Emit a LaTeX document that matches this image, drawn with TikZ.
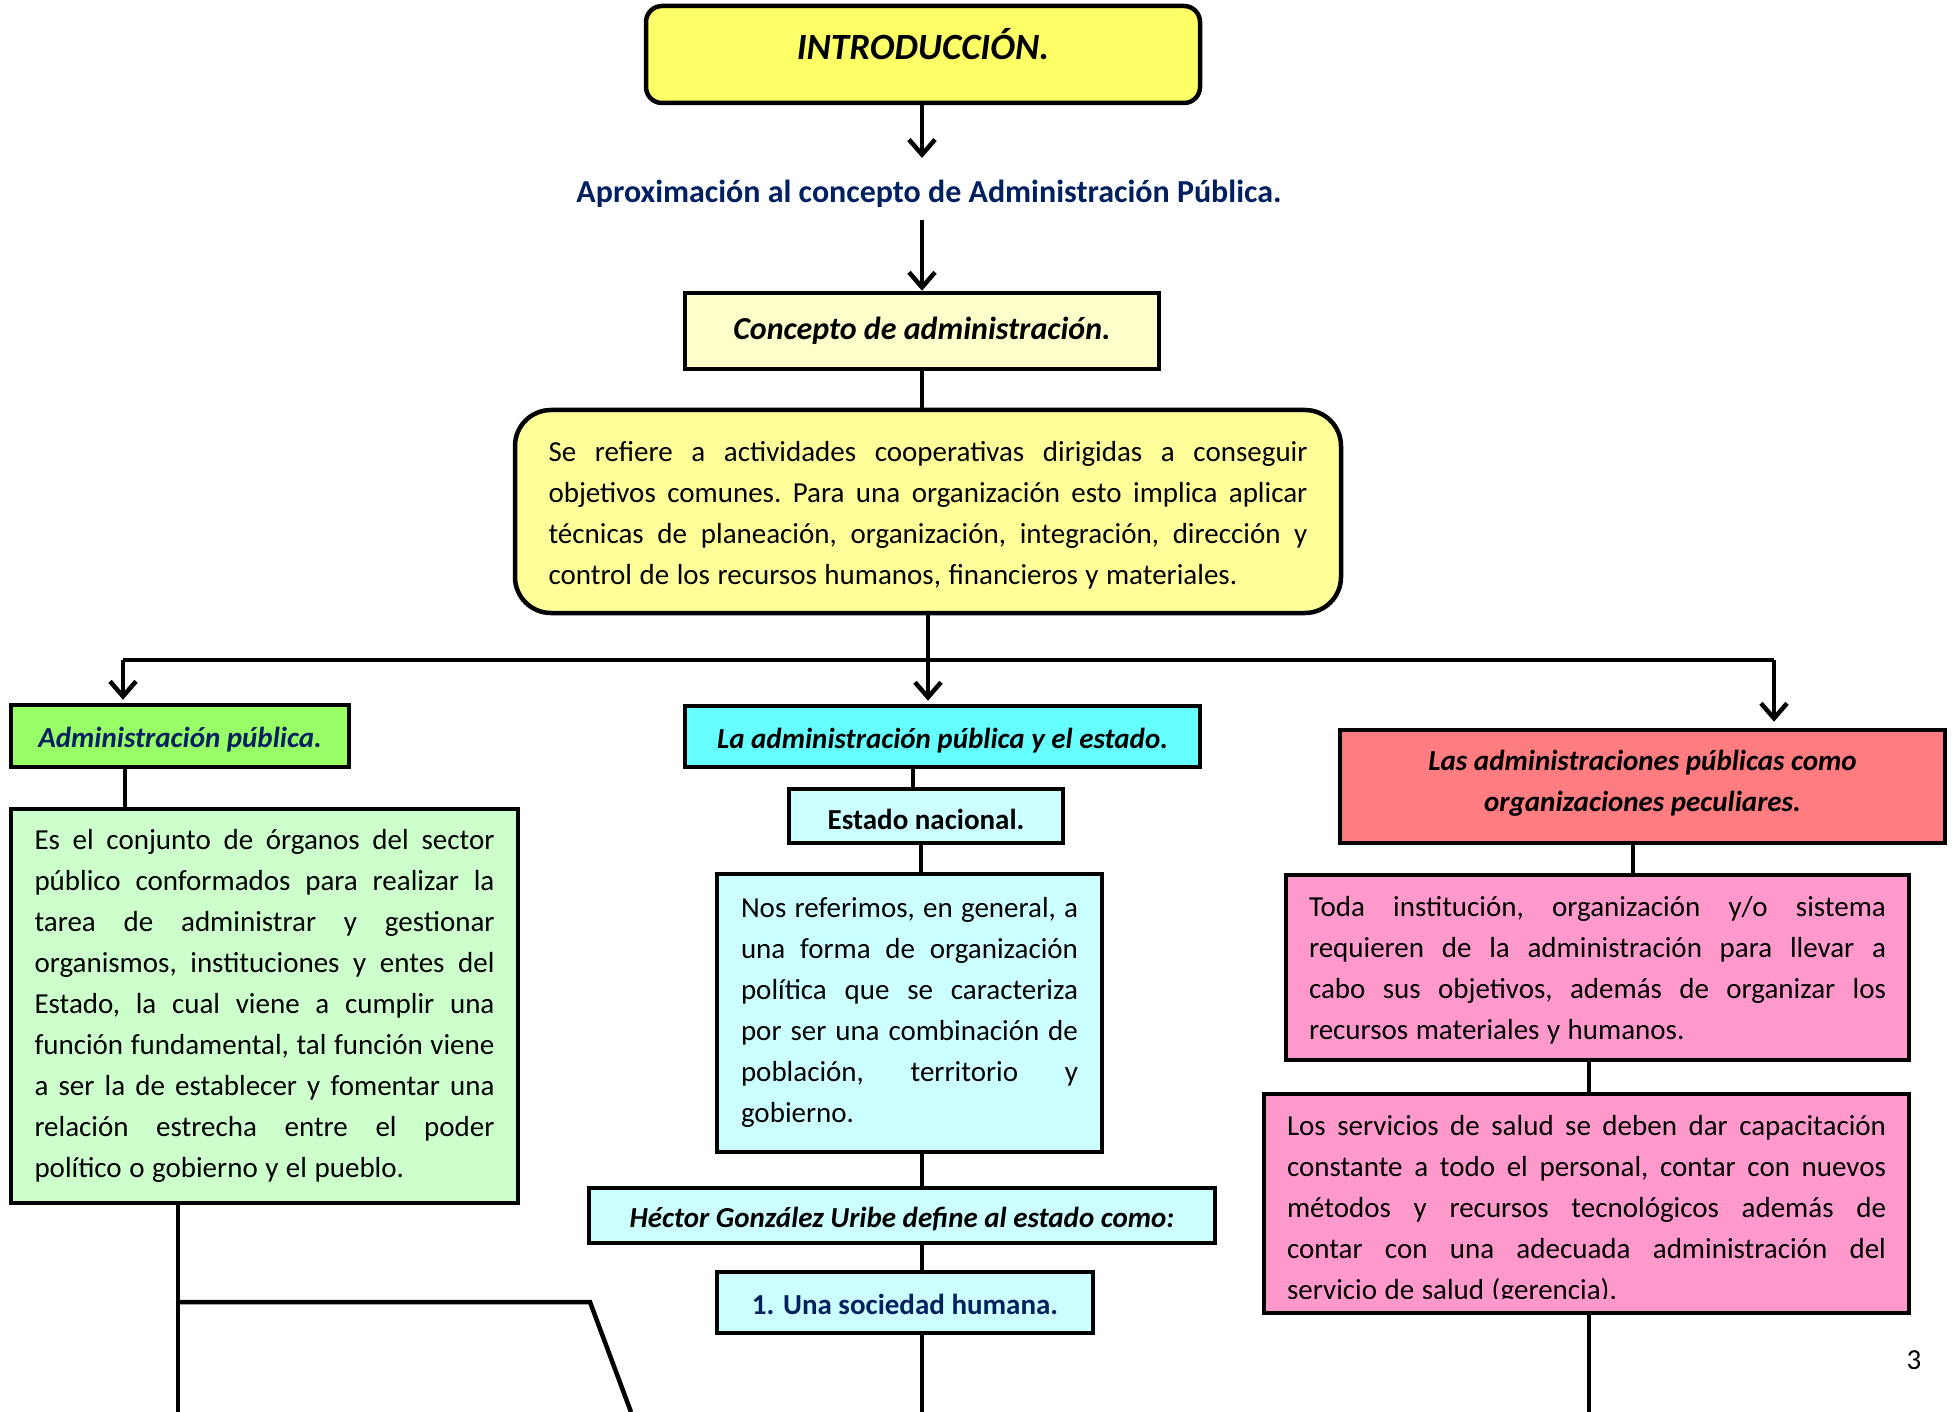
\documentclass[tikz,border=0pt]{standalone}
\usepackage{fontspec}
\setmainfont{Carlito}
\usetikzlibrary{arrows.meta,calc}
\definecolor{navyc}{HTML}{002060}
\definecolor{titley}{HTML}{FFFF66}
\definecolor{lighty}{HTML}{FFFFCC}
\definecolor{midy}{HTML}{FFFF99}
\definecolor{greenh}{HTML}{99FF66}
\definecolor{greenl}{HTML}{CCFFCC}
\definecolor{cyanh}{HTML}{66FFFF}
\definecolor{cyanl}{HTML}{CCFFFF}
\definecolor{redh}{HTML}{FF7C80}
\definecolor{pinkl}{HTML}{FF99CC}
\newlength{\jw}
\newcommand{\mybody}{\fontsize{29}{41}\selectfont}
\newcommand{\myspaces}{\frenchspacing\spaceskip=0.26em plus 3em minus 0.06em\relax}
\newcommand{\jl}[1]{\hbox to \jw{\myspaces #1}}
\newcommand{\lastl}[1]{\hbox{\myspaces #1}}
\begin{document}
\begin{tikzpicture}[x=1pt,y=-1pt,
  box/.style={draw=black, line width=4.5pt, inner sep=0pt, font=\mybody, align=center},
  txt/.style={inner sep=0pt, align=left, font=\mybody, text width=#1, execute at begin node={\setlength{\jw}{#1}}},
  conn/.style={line width=4.5pt},
  arr/.style={conn, -{Straight Barb[length=15pt,width=26pt]}},
  hd/.style={font=\mybody\bfseries\itshape},
  hdv/.style={text height=27pt, text depth=4pt}]
\useasboundingbox (0,0) rectangle (1952,1412);

% top
\node[box, fill=titley, rounded corners=16pt, minimum width=554pt, minimum height=97pt,
      text height=30pt, text depth=20pt,
      font=\fontsize{37}{44}\selectfont\bfseries\itshape] (title) at (923,54.5) {INTRODUCCIÓN.};
\node[font=\fontsize{32}{40}\selectfont\bfseries, text=navyc, inner sep=2pt] (aprox) at (929,194) {Aproximación al concepto de Administración Pública.};
\node[box, font=\fontsize{32}{40}\selectfont\bfseries\itshape, fill=lighty, minimum width=474pt, minimum height=76pt] (conc) at (922,331) {Concepto de administración.};
\node[box, fill=midy, rounded corners=36pt, minimum width=826pt, minimum height=203pt] (def) at (928,511.5) {};
\node[txt=759pt] (deft) at ([yshift=-3.7pt]def.center) {%
\jl{Se refiere a actividades cooperativas dirigidas a conseguir}
\jl{objetivos comunes. Para una organización esto implica aplicar}
\jl{técnicas de planeación, organización, integración, dirección y}
\lastl{control de los recursos humanos, financieros y materiales.}};

% left column
\node[box, hd, hdv, text=navyc, fill=greenh, minimum width=338pt, minimum height=62pt] (apub) at (180,736) {Administración pública.};
\node[box, fill=greenl, minimum width=507pt, minimum height=394pt] (gtext) at (264.5,1006) {};
\node[txt=460pt] (gtextt) at (gtext.center) {%
\jl{Es el conjunto de órganos del sector}
\jl{público conformados para realizar la}
\jl{tarea de administrar y gestionar}
\jl{organismos, instituciones y entes del}
\jl{Estado, la cual viene a cumplir una}
\jl{función fundamental, tal función viene}
\jl{a ser la de establecer y fomentar una}
\jl{relación estrecha entre el poder}
\lastl{político o gobierno y el pueblo.}};

% middle column
\node[box, hd, hdv, fill=cyanh, minimum width=515pt, minimum height=61pt] (lae) at (942.5,736.5) {La administración pública y el estado.};
\node[box, font=\mybody\bfseries, text height=29pt, text depth=3pt, fill=cyanl, minimum width=274pt, minimum height=54pt] (en) at (926,816) {Estado nacional.};
\node[box, fill=cyanl, minimum width=385pt, minimum height=278pt] (nos) at (909.5,1013) {};
\node[txt=337pt] (nost) at ([yshift=1pt]nos.center) {%
\jl{Nos referimos, en general, a}
\jl{una forma de organización}
\jl{política que se caracteriza}
\jl{por ser una combinación de}
\jl{población, territorio y}
\lastl{gobierno.}};
\node[box, hd, hdv, fill=cyanl, minimum width=626pt, minimum height=55pt] (hector) at (902,1215.5) {Héctor González Uribe define al estado como:};
\node[box, hdv, font=\mybody\bfseries, text=navyc, fill=cyanl, minimum width=376pt, minimum height=61pt] (una) at (905,1302.5) {1. Una sociedad humana.};

% right column
\node[box, hd, text depth=12pt, fill=redh, minimum width=605pt, minimum height=113pt] (lap) at (1642.5,786.5) {Las administraciones públicas como\\organizaciones peculiares.};
\node[box, fill=pinkl, minimum width=623pt, minimum height=185pt] (toda) at (1597.5,967.5) {};
\node[txt=577pt] (todat) at ([yshift=-2.5pt]toda.center) {%
\jl{Toda institución, organización y/o sistema}
\jl{requieren de la administración para llevar a}
\jl{cabo sus objetivos, además de organizar los}
\lastl{recursos materiales y humanos.}};
\node[box, fill=pinkl, minimum width=645pt, minimum height=219pt] (serv) at (1586.5,1203.5) {};
\node[txt=599pt] (servt) at ([yshift=-6.2pt]serv.center) {%
\jl{Los servicios de salud se deben dar capacitación}
\jl{constante a todo el personal, contar con nuevos}
\jl{métodos y recursos tecnológicos además de}
\jl{contar con una adecuada administración del}
\lastl{servicio de salud (gerencia).}};
% the last line of this box is cut off at its foot, as in the original
\fill[pinkl] ([xshift=4.5pt]serv.south west |- 0,1299) rectangle ([xshift=-4.5pt,yshift=4.5pt]serv.south east);

\node[font=\mybody, inner sep=0pt] (pg) at (1914,1360) {3};

% helper coordinates
\coordinate (t1) at (922,158);
\coordinate (a2) at (922,220);
\coordinate (bM) at (928,660);
\coordinate (bL) at (123,660);
\coordinate (bR) at (1774,660);
\coordinate (xA) at (125,0);
\coordinate (xE) at (913,0);
\coordinate (xN) at (921,0);
\coordinate (xH) at (922,0);
\coordinate (xT) at (1633,0);
\coordinate (xS) at (1589,0);
\coordinate (gL) at (178,1412);
\coordinate (gK) at (178,1302);
\coordinate (gJ) at (590,1302);
\coordinate (gD) at (631,1412);
\coordinate (uB) at (922,1412);
\coordinate (sB) at (1589,1412);

% connectors
\draw[arr] (title.south -| t1) -- (t1);
\draw[arr] (a2) -- (conc.north -| a2);
\draw[conn] (conc.south -| a2) -- (def.north -| a2);
\draw[conn] (def.south -| bM) -- (bM);
\draw[conn] (bL) -- (bR);
\draw[arr] (bL) -- ([yshift=3pt]bL |- apub.north);
\draw[arr] (bM) -- ([yshift=3pt]bM |- lae.north);
\draw[arr] (bR) -- ([yshift=6pt]bR |- lap.north);

\draw[conn] (apub.south -| xA) -- (gtext.north -| xA);
\draw[conn] (gtext.south -| gL) -- (gL);
\draw[conn] (gK) -- (gJ) -- (gD);

\draw[conn] (lae.south -| xE) -- (en.north -| xE);
\draw[conn] (en.south -| xN) -- (nos.north -| xN);
\draw[conn] (nos.south -| xH) -- (hector.north -| xH);
\draw[conn] (hector.south -| xH) -- (una.north -| xH);
\draw[conn] (una.south -| xH) -- (uB);

\draw[conn] (lap.south -| xT) -- (toda.north -| xT);
\draw[conn] (toda.south -| xS) -- (serv.north -| xS);
\draw[conn] (serv.south -| xS) -- (sB);
\end{tikzpicture}
\end{document}
